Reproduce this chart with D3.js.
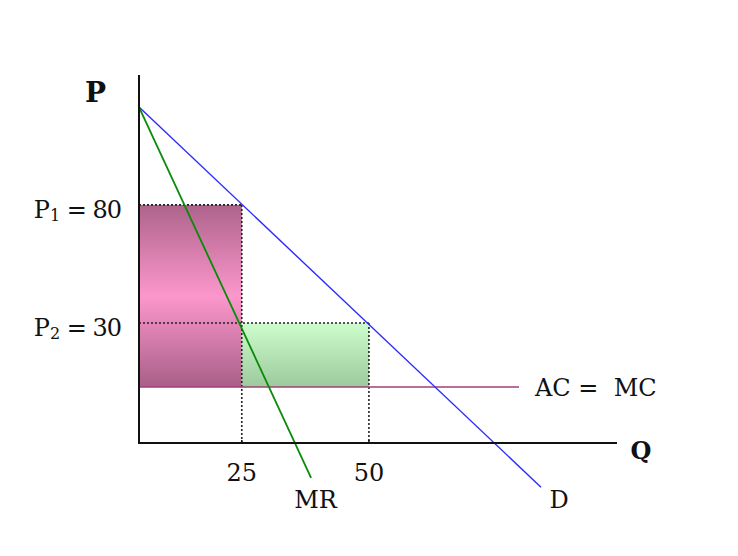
<!DOCTYPE html>
<html>
<head>
<meta charset="utf-8">
<script src="https://cdn.jsdelivr.net/npm/d3@7"></script>
<style>
  html, body { margin: 0; padding: 0; background: #fff; }
  svg { display: block; }
  text { font-family: "DejaVu Serif", "Liberation Serif", serif; fill: #111; }
</style>
</head>
<body>
<div id="chart"></div>
<script>
// Diagram data (schematic units: quantity 0-100, price 0-100 along the drawn axes)
const axisMax = [100, 100];                       // [Q max, P max]
const demandLine = [[0, 91.3], [84.1, -12.0]];    // D
const mrLine = [[0, 91.3], [36.0, -9.5]];         // MR
const costLevel = 15.2;                           // AC = MC
const costLineEnd = 79.5;
const priceLevels = [64.7, 32.6];                 // P1, P2 positions
const priceLabels = [["P", "1", " = 80"], ["P", "2", " = 30"]];
const qtyLevels = [21.5, 48.1];                   // Q1, Q2 positions
const qtyLabels = ["25", "50"];

const W = 738, H = 556;
const x = d3.scaleLinear().domain([0, axisMax[0]]).range([139, 617]);
const y = d3.scaleLinear().domain([0, axisMax[1]]).range([443, 75]);

const svg = d3.select("#chart").append("svg").attr("width", W).attr("height", H);
const defs = svg.append("defs");

const pinkGrad = defs.append("linearGradient").attr("id", "pinkGrad")
  .attr("x1", 0).attr("y1", 0).attr("x2", 0).attr("y2", 1);
pinkGrad.append("stop").attr("offset", "0%").attr("stop-color", "#ad638c");
pinkGrad.append("stop").attr("offset", "50%").attr("stop-color", "#fc97cb");
pinkGrad.append("stop").attr("offset", "100%").attr("stop-color", "#a85f88");

const greenGrad = defs.append("linearGradient").attr("id", "greenGrad")
  .attr("x1", 0).attr("y1", 0).attr("x2", 0).attr("y2", 1);
greenGrad.append("stop").attr("offset", "0%").attr("stop-color", "#cdfccd");
greenGrad.append("stop").attr("offset", "100%").attr("stop-color", "#9cca9c");

// Pink rectangle
svg.append("rect")
  .attr("x", x(0)).attr("y", y(priceLevels[0]))
  .attr("width", x(qtyLevels[0]) - x(0))
  .attr("height", y(costLevel) - y(priceLevels[0]))
  .attr("fill", "url(#pinkGrad)");

// Green rectangle
svg.append("rect")
  .attr("x", x(qtyLevels[0])).attr("y", y(priceLevels[1]))
  .attr("width", x(qtyLevels[1]) - x(qtyLevels[0]))
  .attr("height", y(costLevel) - y(priceLevels[1]))
  .attr("fill", "url(#greenGrad)");

// Dotted guide lines
const dotted = svg.append("g").attr("stroke", "#222").attr("stroke-width", 1.6)
  .attr("stroke-dasharray", "2,2").attr("fill", "none");
priceLevels.forEach((p, i) => {
  dotted.append("line").attr("x1", x(0)).attr("x2", x(qtyLevels[i]))
    .attr("y1", y(p)).attr("y2", y(p));
  dotted.append("line").attr("x1", x(qtyLevels[i])).attr("x2", x(qtyLevels[i]))
    .attr("y1", y(p)).attr("y2", y(0));
});

// AC = MC line
svg.append("line")
  .attr("x1", x(0)).attr("x2", x(costLineEnd))
  .attr("y1", y(costLevel)).attr("y2", y(costLevel))
  .attr("stroke", "#a0407a").attr("stroke-width", 1.6);

const line = d3.line().x(d => x(d[0])).y(d => y(d[1]));

// Demand
svg.append("path").datum(demandLine).attr("d", line)
  .attr("fill", "none").attr("stroke", "#2a2aff").attr("stroke-width", 1.4);
// MR
svg.append("path").datum(mrLine).attr("d", line)
  .attr("fill", "none").attr("stroke", "#0a8a0a").attr("stroke-width", 1.8);

// Axes
svg.append("line").attr("x1", x(0)).attr("x2", x(0))
  .attr("y1", y(axisMax[1])).attr("y2", y(0) + 1)
  .attr("stroke", "#111").attr("stroke-width", 2);
svg.append("line").attr("x1", x(0) - 1).attr("x2", x(axisMax[0]))
  .attr("y1", y(0)).attr("y2", y(0))
  .attr("stroke", "#111").attr("stroke-width", 2);
qtyLevels.forEach(q => {
  svg.append("line").attr("x1", x(q)).attr("x2", x(q))
    .attr("y1", y(0) - 3).attr("y2", y(0))
    .attr("stroke", "#111").attr("stroke-width", 1.5);
});

// Labels
const fs = 24;
svg.append("text").attr("x", 95.5).attr("y", 102).attr("text-anchor", "middle")
  .attr("font-weight", "bold").attr("font-size", 28).text("P");
svg.append("text").attr("x", 641).attr("y", 459).attr("text-anchor", "middle")
  .attr("font-weight", "bold").attr("font-size", 24).text("Q");

priceLevels.forEach((p, i) => {
  const t = svg.append("text").attr("x", 121).attr("y", y(p) + 13)
    .attr("text-anchor", "end").attr("font-size", fs).attr("xml:space", "preserve");
  t.append("tspan").text(priceLabels[i][0]);
  t.append("tspan").attr("font-size", 16).attr("dy", 3).text(priceLabels[i][1]);
  t.append("tspan").attr("dy", -3).attr("letter-spacing", -1).text(priceLabels[i][2]);
});

qtyLevels.forEach((q, i) => {
  svg.append("text").attr("x", x(q)).attr("y", y(0) + 38)
    .attr("text-anchor", "middle").attr("font-size", fs).text(qtyLabels[i]);
});

svg.append("text").attr("x", 315.5).attr("y", 508)
  .attr("text-anchor", "middle").attr("font-size", fs).text("MR");
svg.append("text").attr("x", 559).attr("y", 508)
  .attr("text-anchor", "middle").attr("font-size", fs).text("D");
svg.append("text").attr("x", x(costLineEnd) + 16).attr("y", y(costLevel) + 9)
  .attr("font-size", fs).attr("xml:space", "preserve").text("AC =  MC");
</script>
</body>
</html>
